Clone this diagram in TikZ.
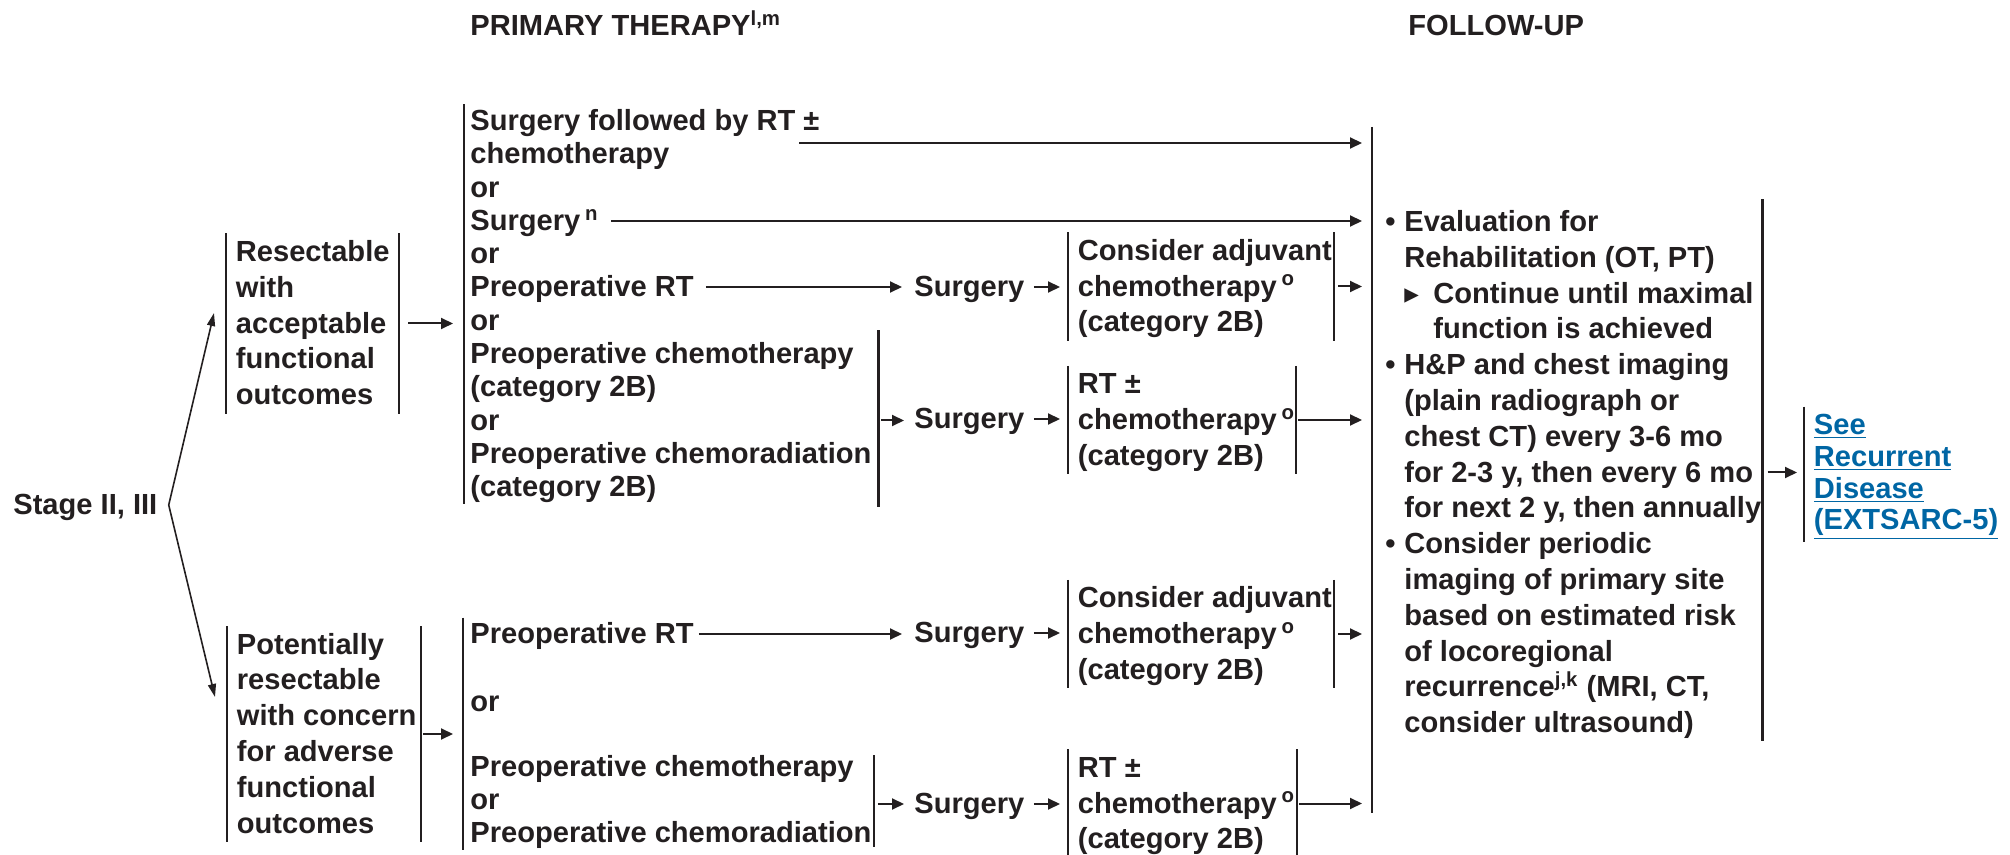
\documentclass[tikz,border=0pt]{standalone}
\usepackage{fontspec}
\setmainfont{Liberation Sans}
\newfontfamily\dvfont{DejaVu Sans}
\usetikzlibrary{arrows.meta,calc}
\definecolor{ink}{HTML}{231F20}
\definecolor{lnk}{RGB}{0,102,164}
\newcommand\ft{\rule{0pt}{0.88em}}
\newcommand\fb{\rule[-0.22em]{0pt}{0.22em}}
\newcommand\bul{\makebox[9.5pt][l]{•}}
\newcommand\ind{\hspace*{9.5pt}}
\begin{document}
\begin{tikzpicture}[x=0.5pt,y=-0.5pt,
  every node/.style={inner sep=0pt, anchor=west, align=left, text=ink,
    font=\fontsize{14.55}{17.9}\selectfont\bfseries},
  col/.style={font=\fontsize{14.55}{16.65}\selectfont\bfseries},
  box/.style={inner xsep=4.75pt, inner ysep=1pt},
  barl/.style={draw=ink, line width=1.2pt},
  arr/.style={draw=ink, line width=1pt, -{Triangle[length=6pt,width=5.5pt]}},
  sarr/.style={draw=ink, line width=0.8pt, -{Triangle[length=6.5pt,width=4pt]}}]
\useasboundingbox (0,0) rectangle (2010,855);

% titles
\node (t1) at (470,26) {\ft PRIMARY THERAPY\textsuperscript{l,m}\fb};
\node (t2) at (1408,26) {\ft FOLLOW-UP\fb};

% stage and left boxes
\node (stage) at (13,505) {\ft Stage II, III\fb};
\node[box] (res) at (226,323.5) {\ft Resectable\\with\\acceptable\\functional\\outcomes\fb};
\node[box] (pot) at (227,734) {\ft Potentially\\resectable\\with concern\\for adverse\\functional\\outcomes\fb};

% primary therapy column
\node[col] (pa) at (470,137.5) {\ft Surgery followed by RT ±\\chemotherapy\fb};
\node[col] (or1) at (470,188) {\ft or\fb};
\node[col] (pb) at (470,221) {\ft Surgery\,\textsuperscript{n}\fb};
\node[col] (or2) at (470,254) {\ft or\fb};
\node[col] (pc) at (470,287) {\ft Preoperative RT\fb};
\node[col] (or3) at (470,321) {\ft or\fb};
\node[col] (pd) at (470,420.5) {\ft Preoperative chemotherapy\\(category 2B)\\or\\Preoperative chemoradiation\\(category 2B)\fb};
\node[col] (pf) at (470,634) {\ft Preoperative RT\fb};
\node[col] (or4) at (470,702) {\ft or\fb};
\node[col] (pe) at (470,800) {\ft Preoperative chemotherapy\\or\\Preoperative chemoradiation\fb};

% surgery
\node (s1) at (914,287) {\ft Surgery\fb};
\node (s2) at (914,419) {\ft Surgery\fb};
\node (s3) at (914,633) {\ft Surgery\fb};
\node (s4) at (914,804) {\ft Surgery\fb};

% adjuvant boxes
\node[box] (ca1) at (1068,286.5) {\ft Consider adjuvant\\chemotherapy\,\textsuperscript{o}\\(category 2B)\fb};
\node[box] (rt1) at (1068,420) {\ft RT ±\\chemotherapy\,\textsuperscript{o}\\(category 2B)\fb};
\node[box] (ca2) at (1068,634) {\ft Consider adjuvant\\chemotherapy\,\textsuperscript{o}\\(category 2B)\fb};
\node[box] (rt2) at (1068,803.5) {\ft RT ±\\chemotherapy\,\textsuperscript{o}\\(category 2B)\fb};

% follow-up
\node (fu) at (1385,472.5) {\ft\bul Evaluation for\\
\ind Rehabilitation (OT, PT)\\
\ind\makebox[14.5pt][l]{\dvfont ▸}Continue until maximal\\
\hspace*{24pt}function is achieved\\
\bul H\&P and chest imaging\\
\ind (plain radiograph or\\
\ind chest CT) every 3-6 mo\\
\ind for 2-3 y, then every 6 mo\\
\ind for next 2 y, then annually\\
\bul Consider periodic\\
\ind imaging of primary site\\
\ind based on estimated risk\\
\ind of locoregional\\
\ind recurrence\textsuperscript{j,k} (MRI, CT,\\
\ind consider ultrasound)\fb};

\node[box, text=lnk, font=\fontsize{14.55}{15.9}\selectfont\bfseries] (see) at (1804,474.5)
  {\ft\underline{See}\\\underline{Recurrent}\\\underline{Disease}\\\underline{(EXTSARC-5)}\fb};

% bars
\draw[barl] ($(pa.north west)+(-6,0)$) -- ($(pd.south west)+(-6,0)$);
\draw[barl] ($(pd.north east)+(6.5,-7)$) -- ($(pd.south east)+(6.5,3)$);
\draw[barl] ($(pf.north west)+(-7,0)$) -- ($(pe.south west)+(-7,0)$);
\draw[barl] ($(pe.north east)+(2,5)$) -- ($(pe.south east)+(2,-3)$);
\foreach \n/\d in {res/173, pot/194, ca1/266, rt1/228, ca2/266, rt2/229}{
  \draw[barl] (\n.north west) -- (\n.south west);
  \draw[barl] ($(\n.north west)+(\d,0)$) -- ($(\n.south west)+(\d,0)$);
}
\draw[barl] (see.north west) -- (see.south west);
\draw[barl] ($(fu.north east)+(1,-6)$) -- ($(fu.south east)+(1,1)$);
\coordinate (fut) at (1372,127);
\coordinate (fub) at (1372,813);
\draw[barl] (fut) -- (fub);

% stage arrows
\coordinate (sv) at ($(stage.east)+(11,0)$);
\coordinate (rtip) at (214,313);
\coordinate (ptip) at (215,697);
\draw[sarr] (sv) -- (rtip);
\draw[sarr] (sv) -- (ptip);

% arrows
\draw[arr, shorten >=8.5pt] ($(res.west)+(182,0)$) -- (res.west -| pa.west);
\draw[arr, shorten >=8.5pt] ($(pot.west)+(196,0)$) -- (pot.west -| pf.west);
\coordinate (a1s) at (799,143);
\draw[arr, shorten >=5pt] (a1s) -- (a1s -| fut);
\draw[arr, shorten <=6pt, shorten >=5pt] (pb.east) -- (pb.east -| fut);
\draw[arr, shorten <=6pt, shorten >=6pt] (pc.east) -- (pc.east -| s1.west);
\draw[arr, shorten <=4.5pt, shorten >=4pt] (s1.east) -- (s1.east -| ca1.west);
\draw[arr, shorten >=5pt] ($(ca1.west)+(270,0)$) -- (ca1.west -| fut);
\draw[arr, shorten >=5pt] ($(pd.east)+(9.5,0)$) -- (pd.east -| s2.west);
\draw[arr, shorten <=4.5pt, shorten >=4pt] (s2.east) -- (s2.east -| rt1.west);
\draw[arr, shorten >=5pt] ($(rt1.west)+(230,0)$) -- (rt1.west -| fut);
\draw[arr, shorten <=2.5pt, shorten >=6pt] (pf.east) -- (pf.east -| s3.west);
\draw[arr, shorten <=4.5pt, shorten >=4pt] (s3.east) -- (s3.east -| ca2.west);
\draw[arr, shorten >=5pt] ($(ca2.west)+(270,0)$) -- (ca2.west -| fut);
\draw[arr, shorten >=5pt] ($(pe.east)+(6,4)$) -- ($(s4.west)+(0,0)$);
\draw[arr, shorten <=4.5pt, shorten >=4pt] (s4.east) -- (s4.east -| rt2.west);
\draw[arr, shorten >=5pt] ($(rt2.west)+(231,0)$) -- (rt2.west -| fut);
\draw[arr, shorten <=3pt, shorten >=3.5pt] (fu.east) -- (fu.east -| see.west);
\end{tikzpicture}
\end{document}
